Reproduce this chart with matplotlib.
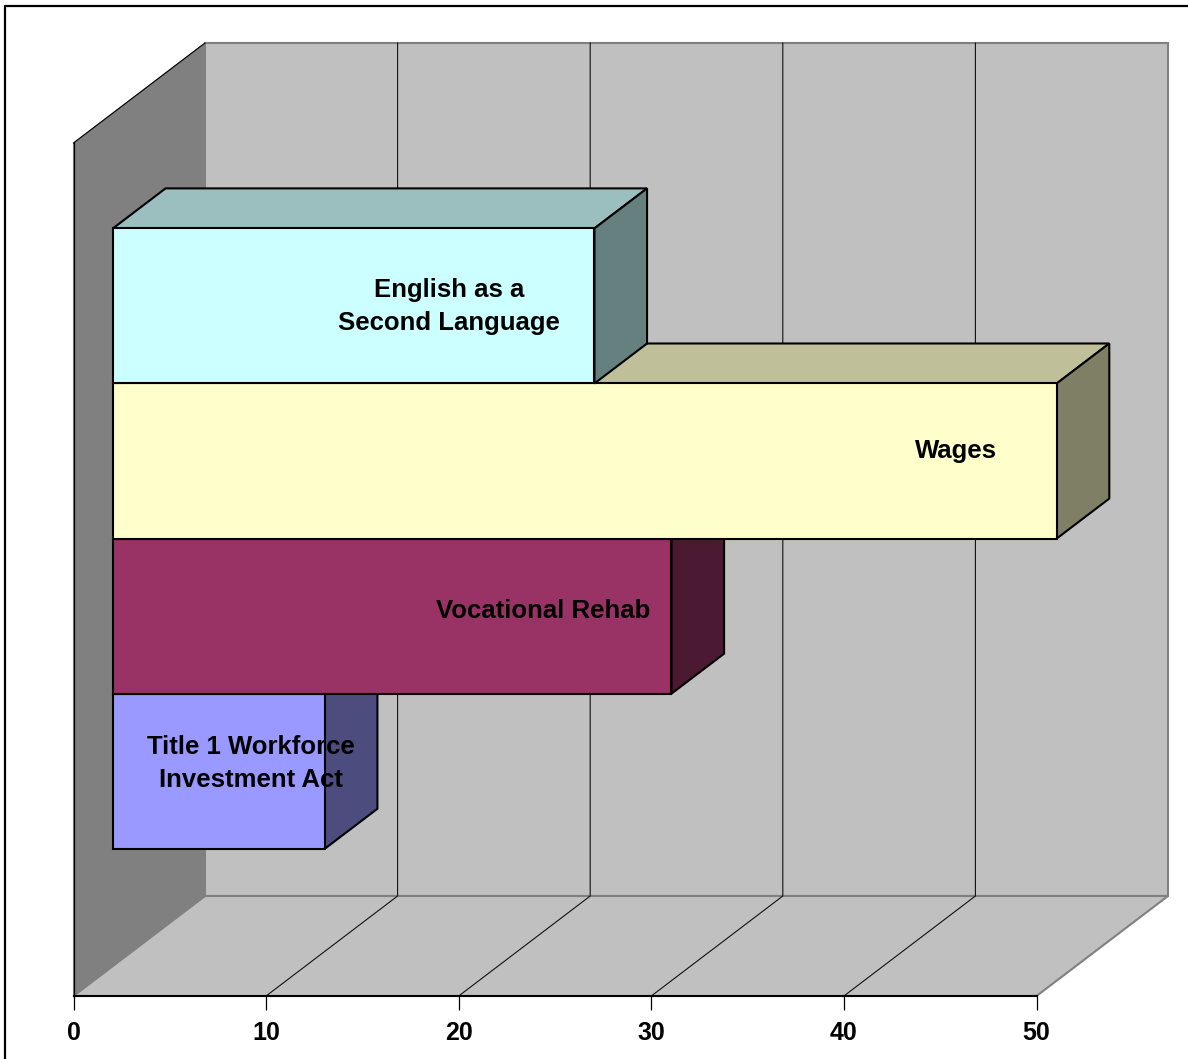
import matplotlib
matplotlib.use('Agg')
from matplotlib import pyplot as plt
from matplotlib.lines import Line2D

plt.rcParams['font.family'] = ['Liberation Sans', 'DejaVu Sans']

# data, bottom bar first
names = ['Title 1 Workforce\nInvestment Act', 'Vocational Rehab', 'Wages', 'English as a\nSecond Language']
values = [11, 29, 49, 25]
front_colors = ['#9999FF', '#993366', '#FFFFCC', '#CCFFFF']
top_colors = ['#7373BF', '#732650', '#BFBF99', '#9ABFBE']
side_colors = ['#4C4C7F', '#4C1933', '#7F7F66', '#667F7F']
ticks = [0, 10, 20, 30, 40, 50]

# label centres in axis units
label_x = [9.2, 24.4, 45.8, 19.5]
label_y = [1.50, 2.485, 3.515, 4.445]

W, H = 1188, 1059
x_max = 50
y_max = 5.5
gap = 0.756
# depth of the box, in axis units
depth_x = 131.5 / 19.26
depth_y = 100 / 155.1
bar_d0 = 0.30
bar_d1 = 0.70


def proj(x, y, d):
    return x + d * depth_x, y + d * depth_y


def face(ax, pts, color, edge, lw, z):
    xs = [p[0] for p in pts]
    ys = [p[1] for p in pts]
    ax.fill(xs, ys, facecolor=color, edgecolor=edge, linewidth=lw,
            clip_on=False, zorder=z, joinstyle='miter')


fig = plt.figure(figsize=(W / 100, H / 100), dpi=100, facecolor='white')
ax = fig.add_axes([73.5 / W, 1 - 996 / H, (1037 - 74) / W, (996 - 143) / H])
ax.set_xlim(0, x_max)
ax.set_ylim(0, y_max)
ax.patch.set_visible(False)
for s in ['top', 'right']:
    ax.spines[s].set_visible(False)
ax.spines['bottom'].set_linewidth(1.5)
ax.spines['bottom'].set_zorder(6)
ax.spines['left'].set_linewidth(0.9)
ax.set_yticks([])
ax.set_xticks(ticks)
ax.tick_params(axis='x', length=10, width=0.9, pad=8, labelsize=18)
for t in ax.get_xticklabels():
    t.set_fontweight('bold')

# walls
wall_edge = '#808080'
face(ax, [proj(0, 0, 1), proj(x_max, 0, 1), proj(x_max, y_max, 1), proj(0, y_max, 1)],
     '#C0C0C0', wall_edge, 1.5, 1)
face(ax, [proj(0, 0, 0), proj(x_max, 0, 0), proj(x_max, 0, 1), proj(0, 0, 1)],
     '#C0C0C0', wall_edge, 1.5, 1)
face(ax, [proj(0, 0, 0), proj(0, 0, 1), proj(0, y_max, 1), proj(0, y_max, 0)],
     '#808080', wall_edge, 0.8, 1.5)
ax.plot(*zip(proj(0, y_max, 0), proj(0, y_max, 1)), color='black', lw=0.8, clip_on=False, zorder=2)

# gridlines on floor and back wall
for t in ticks[1:-1]:
    ax.plot(*zip(proj(t, 0, 0), proj(t, 0, 1), proj(t, y_max, 1)),
            color='#111111', lw=0.8, clip_on=False, zorder=2)

# bars, drawn bottom up so the upper ones sit over the lower tops
for i, v in enumerate(values):
    y0 = gap + i
    y1 = y0 + 1
    z = 3 + i * 0.1
    face(ax, [proj(0, y1, bar_d0), proj(v, y1, bar_d0), proj(v, y1, bar_d1), proj(0, y1, bar_d1)],
         top_colors[i], 'black', 1.5, z)
    face(ax, [proj(v, y0, bar_d0), proj(v, y0, bar_d1), proj(v, y1, bar_d1), proj(v, y1, bar_d0)],
         side_colors[i], 'black', 1.5, z)
    face(ax, [proj(0, y0, bar_d0), proj(v, y0, bar_d0), proj(v, y1, bar_d0), proj(0, y1, bar_d0)],
         front_colors[i], 'black', 1.5, z)

for i, name in enumerate(names):
    ax.text(label_x[i], label_y[i], name, ha='center', va='center', fontsize=18.5,
            fontweight='bold', color='black', linespacing=1.5, zorder=7, clip_on=False)

# chart border, only left and top fall inside the image
fig.add_artist(Line2D([5 / W, 5 / W, 1], [0, 1 - 6 / H, 1 - 6 / H], color='black', lw=1.6))

fig.savefig('out.png', dpi=100, facecolor='white')
